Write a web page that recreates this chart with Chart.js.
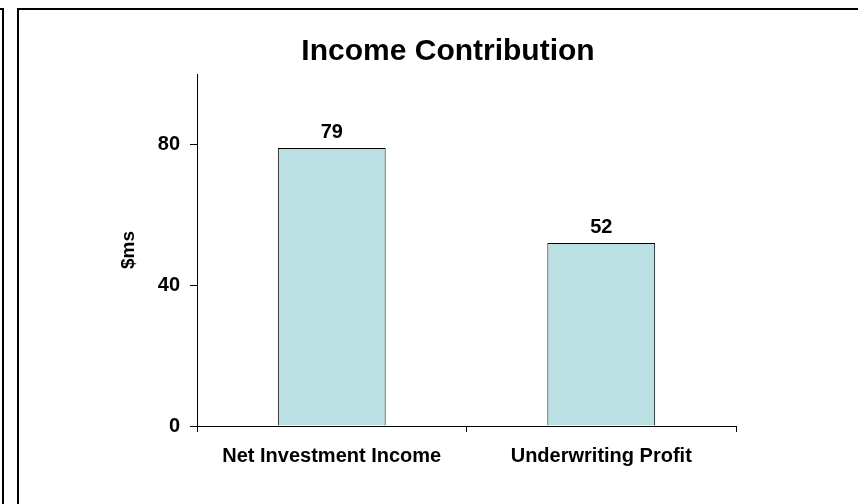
<!DOCTYPE html>
<html>
<head>
<meta charset="utf-8">
<script src="https://cdn.jsdelivr.net/npm/chart.js@4"></script>
<style>
  html, body { margin: 0; padding: 0; background: #fff; overflow: hidden; width: 858px; height: 504px; }
  .frame { position: absolute; box-sizing: border-box; border: 2px solid #000; }
  #chartBox { position: absolute; left: 17px; top: 0; width: 862px; height: 504px; }
</style>
</head>
<body>
<div class="frame" style="left:-46px; top:8px; width:50px; height:600px;"></div>
<div class="frame" style="left:17px; top:8px; width:900px; height:600px;"></div>
<div id="chartBox"><canvas id="incomeChart" width="862" height="504"></canvas></div>
<script>
const chartTitle = "Income Contribution";
const categories = ["Net Investment Income", "Underwriting Profit"];
const incomeValues = [79, 52];
const yTicks = [0, 40, 80];
const yMax = 100;

const FONT = "'Liberation Sans', Arial, Helvetica, sans-serif";

// title centred on the whole frame + value labels above each bar
const barLabels = {
  id: "barLabels",
  afterDatasetsDraw(chart) {
    const ctx = chart.ctx;
    const meta = chart.getDatasetMeta(0);
    ctx.save();
    ctx.fillStyle = "#000";
    ctx.textAlign = "center";
    ctx.textBaseline = "middle";

    ctx.font = "bold 30px " + FONT;
    ctx.fillText(chartTitle, chart.width / 2, 52);

    ctx.font = "bold 20px " + FONT;
    meta.data.forEach((bar, i) => {
      ctx.fillText(String(incomeValues[i]), bar.x, bar.y - 15);
    });
    ctx.restore();
  }
};

new Chart(document.getElementById("incomeChart"), {
  type: "bar",
  data: {
    labels: categories,
    datasets: [{
      data: incomeValues,
      backgroundColor: "#BAE0E3",
      borderColor: "#000",
      borderWidth: 1,
      barPercentage: 0.4,
      categoryPercentage: 1
    }]
  },
  options: {
    responsive: false,
    animation: false,
    layout: { padding: { left: 100, right: 143, top: 74, bottom: 28 } },
    plugins: {
      legend: { display: false },
      tooltip: { enabled: false },
      title: { display: false }
    },
    scales: {
      x: {
        offset: true,
        border: { display: true, color: "#000", width: 1 },
        grid: { offset: true, drawOnChartArea: false, color: "#000", tickLength: 6 },
        ticks: {
          color: "#000",
          padding: 12,
          maxRotation: 0,
          font: { family: FONT, size: 20, weight: "bold" }
        },
        afterFit: (scale) => { scale.height = 50; }
      },
      y: {
        min: 0,
        max: yMax,
        border: { display: true, color: "#000", width: 1 },
        grid: { drawOnChartArea: false, color: "#000", tickLength: 7 },
        afterBuildTicks: (scale) => { scale.ticks = yTicks.map(v => ({ value: v })); },
        ticks: {
          color: "#000",
          padding: 10,
          font: { family: FONT, size: 20, weight: "bold" }
        },
        title: {
          display: true,
          text: "$ms",
          color: "#000",
          padding: 0,
          font: { family: FONT, size: 19, weight: "bold" }
        },
        afterFit: (scale) => { scale.width = 80; }
      }
    }
  },
  plugins: [barLabels]
});
</script>
</body>
</html>
